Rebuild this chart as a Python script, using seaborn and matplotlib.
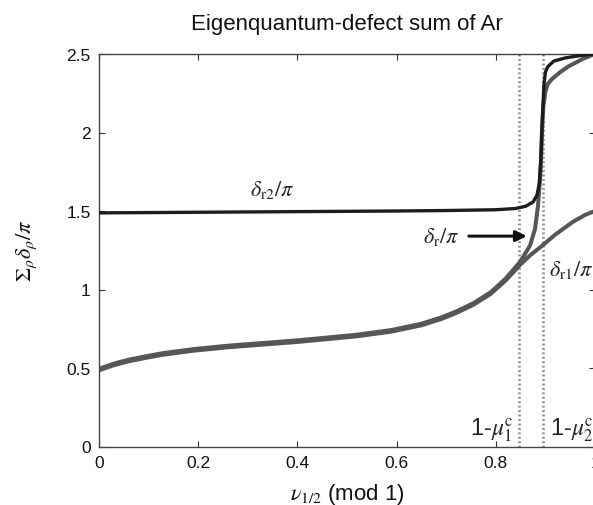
import matplotlib
matplotlib.use("Agg")
import matplotlib.pyplot as plt
import seaborn as sns
import pandas as pd
import numpy as np

# ---- data ----
x_r2 = [0, 0.1, 0.2, 0.3, 0.4, 0.5, 0.6, 0.7, 0.8, 0.84, 0.86, 0.875, 0.883,
        0.888, 0.891, 0.894, 0.897, 0.9, 0.905, 0.917, 0.94, 0.97, 1.0]
y_r2 = [1.488, 1.49, 1.492, 1.494, 1.496, 1.498, 1.5, 1.503, 1.508, 1.516, 1.53,
        1.557, 1.6, 1.68, 1.85, 2.1, 2.3, 2.385, 2.42, 2.455, 2.475, 2.49, 2.5]

x_r1 = [0, 0.03, 0.06, 0.1, 0.13, 0.19, 0.26, 0.33, 0.4, 0.45, 0.52, 0.59, 0.65,
        0.69, 0.72, 0.755, 0.79, 0.82, 0.85, 0.87, 0.89, 0.92, 0.955, 0.98, 1.0]
y_r1 = [0.485, 0.518, 0.543, 0.568, 0.585, 0.61, 0.632, 0.649, 0.666, 0.681, 0.702,
        0.732, 0.772, 0.812, 0.85, 0.903, 0.973, 1.058, 1.16, 1.22, 1.27, 1.35,
        1.43, 1.475, 1.5]

x_r = [0, 0.03, 0.06, 0.1, 0.13, 0.19, 0.26, 0.33, 0.4, 0.45, 0.52, 0.59, 0.65,
       0.69, 0.72, 0.755, 0.79, 0.82, 0.85, 0.869, 0.879, 0.885, 0.889, 0.891,
       0.893, 0.896, 0.9, 0.905, 0.913, 0.93, 0.946, 0.976, 1.0]
y_r = [0.495, 0.528, 0.553, 0.578, 0.595, 0.62, 0.642, 0.659, 0.676, 0.691, 0.712,
       0.742, 0.782, 0.822, 0.86, 0.913, 0.983, 1.07, 1.18, 1.28, 1.385, 1.53,
       1.70, 1.80, 2.0, 2.17, 2.26, 2.31, 2.34, 2.385, 2.42, 2.47, 2.5]

mu_lines = [0.847, 0.895]

x_ticks = [0, 0.2, 0.4, 0.6, 0.8, 1]
y_ticks = [0, 0.5, 1, 1.5, 2, 2.5]

sns.set_style("ticks")
plt.rcParams['font.family'] = ['Liberation Sans', 'DejaVu Sans']
plt.rcParams['mathtext.fontset'] = 'stix'

fig = plt.figure(figsize=(5.93, 5.06), dpi=100)
ax = fig.add_axes([99/593, 1 - 447.5/506, 496/593, (447.5 - 55)/506])

df_r2 = pd.DataFrame({"x": x_r2, "y": y_r2})
df_r1 = pd.DataFrame({"x": x_r1, "y": y_r1})
df_r = pd.DataFrame({"x": x_r, "y": y_r})

for xv in mu_lines:
    ax.axvline(xv, color="#8a8a8a", lw=2.0, ls=(0, (0.6, 1.0)), zorder=1)

sns.lineplot(data=df_r1, x="x", y="y", ax=ax, color="#565656", lw=2.9,
             sort=False, estimator=None, zorder=2)
sns.lineplot(data=df_r, x="x", y="y", ax=ax, color="#565656", lw=2.9,
             sort=False, estimator=None, zorder=2)
sns.lineplot(data=df_r2, x="x", y="y", ax=ax, color="#1c1c1c", lw=2.4,
             sort=False, estimator=None, zorder=3)

ax.set_xlim(0, 1)
ax.set_ylim(0, 2.5)
ax.set_xticks(x_ticks)
ax.set_xticklabels(["0", "0.2", "0.4", "0.6", "0.8", "1"])
ax.set_yticks(y_ticks)
ax.set_yticklabels(["0", "0.5", "1", "1.5", "2", "2.5"])
ax.tick_params(direction="in", top=True, right=True, length=4, width=0.8,
               labelsize=12.5, colors="#333333", labelcolor="#111111", pad=6)
for s in ax.spines.values():
    s.set_visible(True)
    s.set_color("#444444")
    s.set_linewidth(1.0)

ax.set_title("Eigenquantum-defect sum of Ar", fontsize=16, pad=18, color="#111111")
ax.set_xlabel(r"$\nu_{1/2}$ (mod 1)", fontsize=16, labelpad=8, color="#111111")
ax.set_ylabel(r"$\Sigma_\rho\delta_\rho/\pi$", fontsize=16, labelpad=20, color="#111111")

ax.text(0.35, 1.64, r"$\delta_{\rm r2}/\pi$", fontsize=16, ha="center", va="center")
ax.text(0.69, 1.34, r"$\delta_{\rm r}/\pi$", fontsize=16, ha="center", va="center")
ax.annotate("", xy=(0.868, 1.34), xytext=(0.74, 1.34),
            arrowprops=dict(arrowstyle="-|>", color="#111111", lw=2.2,
                            mutation_scale=16))
ax.text(0.908, 1.13, r"$\delta_{\rm r1}/\pi$", fontsize=16, ha="left", va="center")
ax.text(0.836, 0.11, r"1-$\mu_1^{\rm c}$", fontsize=17, ha="right", va="center")
ax.text(0.91, 0.11, r"1-$\mu_2^{\rm c}$", fontsize=17, ha="left", va="center")

fig.savefig("out.png", dpi=100)
